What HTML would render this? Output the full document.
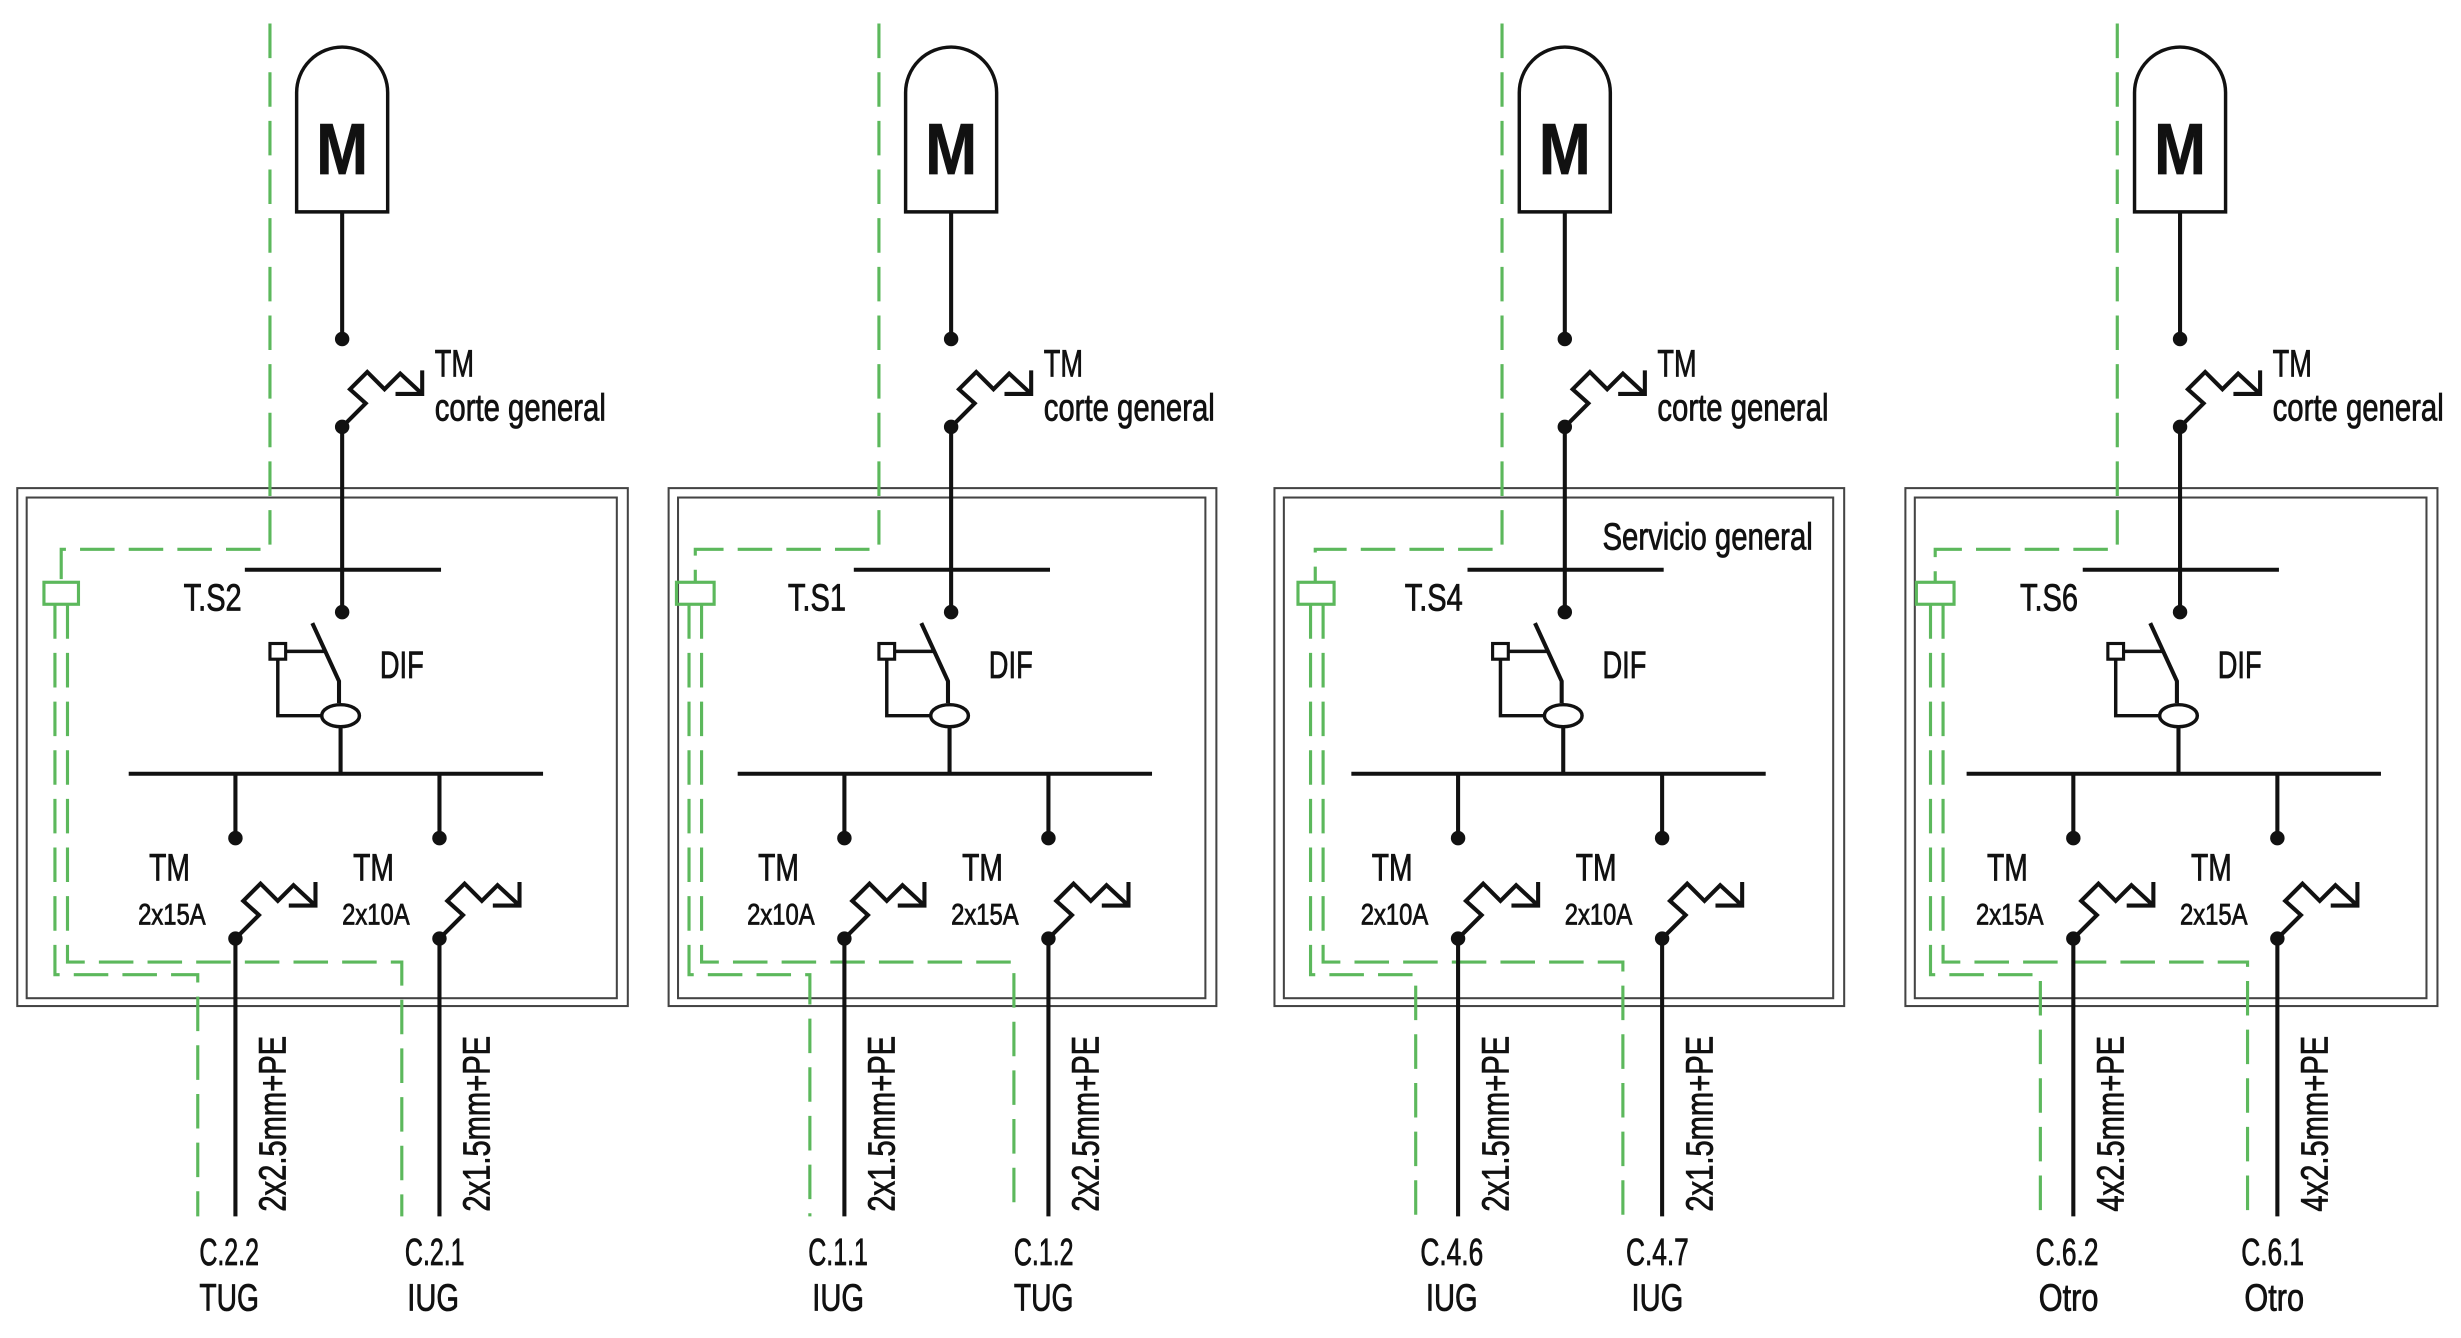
<!DOCTYPE html>
<html><head><meta charset="utf-8">
<style>
html,body{margin:0;padding:0;background:#fff;}
svg{display:block;}
text{font-family:"Liberation Sans Narrow","Liberation Sans",sans-serif;fill:#111;stroke:#111;stroke-width:0.5;}
</style></head>
<body>
<svg width="2461" height="1338" viewBox="0 0 1568 852.5" preserveAspectRatio="none" xmlns="http://www.w3.org/2000/svg">
<defs>
<g id="brk">
<path d="M0,0 L15,-15 L5,-24 L16,-35 L27,-24 L37,-34 L51,-21" fill="none" stroke="#111" stroke-width="2.6" stroke-linejoin="miter"/>
<path d="M34,-21 H51 V-36" fill="none" stroke="#111" stroke-width="2.6"/>
</g>
<g id="core" stroke="#111" stroke-width="2.6" fill="none">
<path d="M189,135 V59 A29,29 0 0 1 247,59 V135 Z" stroke-width="2.2"/>
<line x1="218" y1="135" x2="218" y2="216"/>
<use href="#brk" x="218" y="272"/>
<line x1="218" y1="272" x2="218" y2="390"/>
<line x1="156" y1="363" x2="281" y2="363"/>
<path d="M199,397 L216,434 V448"/>
<rect x="172" y="410" width="10" height="10" stroke-width="2"/>
<line x1="182" y1="415" x2="207" y2="415" stroke-width="2.2"/>
<path d="M177,420 V456 H205" stroke-width="2.2"/>
<ellipse cx="217" cy="456" rx="12" ry="7" stroke-width="2.2"/>
<line x1="217" y1="463" x2="217" y2="493"/>
<line x1="82" y1="493" x2="346" y2="493"/>
<line x1="150" y1="493" x2="150" y2="534"/>
<line x1="280" y1="493" x2="280" y2="534"/>
<use href="#brk" x="150" y="598"/>
<use href="#brk" x="280" y="598"/>
<line x1="150" y1="598" x2="150" y2="775"/>
<line x1="280" y1="598" x2="280" y2="775"/>
<g fill="#111" stroke="none">
<circle cx="218" cy="216" r="4.6"/><circle cx="218" cy="272" r="4.6"/>
<circle cx="218" cy="390" r="4.6"/>
<circle cx="150" cy="534" r="4.6"/><circle cx="280" cy="534" r="4.6"/>
<circle cx="150" cy="598" r="4.6"/><circle cx="280" cy="598" r="4.6"/>
</g>
</g>
<g id="lbl">
<text x="218" y="111" font-size="46" font-weight="bold" text-anchor="middle" textLength="33" lengthAdjust="spacingAndGlyphs">M</text>
<text x="277" y="240" font-size="24" textLength="25" lengthAdjust="spacingAndGlyphs">TM</text>
<text x="277" y="268" font-size="24" textLength="109" lengthAdjust="spacingAndGlyphs">corte general</text>
<text x="242" y="432" font-size="24" textLength="28" lengthAdjust="spacingAndGlyphs">DIF</text>
<text x="95" y="561" font-size="24" textLength="26" lengthAdjust="spacingAndGlyphs">TM</text>
<text x="225" y="561" font-size="24" textLength="26" lengthAdjust="spacingAndGlyphs">TM</text>
</g>
</defs>

<!-- boxes -->
<g fill="none" stroke="#444" stroke-width="1.3">
<rect x="11" y="311" width="389" height="330"/><rect x="17" y="317" width="376" height="319"/>
<rect x="426" y="311" width="349" height="330"/><rect x="432" y="317" width="336" height="319"/>
<rect x="812" y="311" width="363" height="330"/><rect x="818" y="317" width="350" height="319"/>
<rect x="1214" y="311" width="339" height="330"/><rect x="1220" y="317" width="326" height="319"/>
</g>

<!-- green earth -->
<g stroke="#5cb85c" stroke-width="2" fill="none">
<path d="M172,15 V350 H39 V371" stroke-dasharray="22 9"/>
<rect x="28" y="371" width="22" height="14"/>
<path d="M43,385 V613 H256 V775" stroke-dasharray="22 9"/>
<path d="M35,385 V621 H126 V775" stroke-dasharray="22 9"/>

<path d="M560,15 V350 H443 V371" stroke-dasharray="22 9"/>
<rect x="431" y="371" width="24" height="14"/>
<path d="M447,385 V613 H646 V775" stroke-dasharray="22 9"/>
<path d="M439,385 V621 H516 V775" stroke-dasharray="22 9"/>

<path d="M957,15 V350 H838 V371" stroke-dasharray="22 9"/>
<rect x="827" y="371" width="23" height="14"/>
<path d="M843,385 V613 H1034 V775" stroke-dasharray="22 9"/>
<path d="M835,385 V621 H902 V775" stroke-dasharray="22 9"/>

<path d="M1349,15 V350 H1233 V371" stroke-dasharray="22 9"/>
<rect x="1221" y="371" width="24" height="14"/>
<path d="M1238,385 V613 H1432 V775" stroke-dasharray="22 9"/>
<path d="M1230,385 V621 H1300 V775" stroke-dasharray="22 9"/>
</g>

<!-- Panel 1 -->
<g>
<use href="#core"/><use href="#lbl"/>
<text x="117" y="389" font-size="24" textLength="37" lengthAdjust="spacingAndGlyphs">T.S2</text>
<text x="88" y="589" font-size="19" textLength="43" lengthAdjust="spacingAndGlyphs">2x15A</text>
<text x="218" y="589" font-size="19" textLength="43" lengthAdjust="spacingAndGlyphs">2x10A</text>
<text transform="translate(182,772) rotate(-90)" font-size="24" textLength="112" lengthAdjust="spacingAndGlyphs">2x2.5mm+PE</text>
<text transform="translate(312,772) rotate(-90)" font-size="24" textLength="112" lengthAdjust="spacingAndGlyphs">2x1.5mm+PE</text>
<text x="146" y="806" font-size="24" text-anchor="middle" textLength="38" lengthAdjust="spacingAndGlyphs">C.2.2</text>
<text x="146" y="835" font-size="24" text-anchor="middle" textLength="38" lengthAdjust="spacingAndGlyphs">TUG</text>
<text x="277" y="806" font-size="24" text-anchor="middle" textLength="38" lengthAdjust="spacingAndGlyphs">C.2.1</text>
<text x="276" y="835" font-size="24" text-anchor="middle" textLength="33" lengthAdjust="spacingAndGlyphs">IUG</text>
</g>

<!-- Panel 2 -->
<g transform="translate(388,0)">
<use href="#core"/><use href="#lbl"/>
<text x="114" y="389" font-size="24" textLength="37" lengthAdjust="spacingAndGlyphs">T.S1</text>
<text x="88" y="589" font-size="19" textLength="43" lengthAdjust="spacingAndGlyphs">2x10A</text>
<text x="218" y="589" font-size="19" textLength="43" lengthAdjust="spacingAndGlyphs">2x15A</text>
<text transform="translate(182,772) rotate(-90)" font-size="24" textLength="112" lengthAdjust="spacingAndGlyphs">2x1.5mm+PE</text>
<text transform="translate(312,772) rotate(-90)" font-size="24" textLength="112" lengthAdjust="spacingAndGlyphs">2x2.5mm+PE</text>
<text x="146" y="806" font-size="24" text-anchor="middle" textLength="38" lengthAdjust="spacingAndGlyphs">C.1.1</text>
<text x="146" y="835" font-size="24" text-anchor="middle" textLength="33" lengthAdjust="spacingAndGlyphs">IUG</text>
<text x="277" y="806" font-size="24" text-anchor="middle" textLength="38" lengthAdjust="spacingAndGlyphs">C.1.2</text>
<text x="277" y="835" font-size="24" text-anchor="middle" textLength="38" lengthAdjust="spacingAndGlyphs">TUG</text>
</g>

<!-- Panel 3 -->
<g transform="translate(779,0)">
<use href="#core"/><use href="#lbl"/>
<text x="242" y="350" font-size="24" textLength="134" lengthAdjust="spacingAndGlyphs">Servicio general</text>
<text x="116" y="389" font-size="24" textLength="37" lengthAdjust="spacingAndGlyphs">T.S4</text>
<text x="88" y="589" font-size="19" textLength="43" lengthAdjust="spacingAndGlyphs">2x10A</text>
<text x="218" y="589" font-size="19" textLength="43" lengthAdjust="spacingAndGlyphs">2x10A</text>
<text transform="translate(182,772) rotate(-90)" font-size="24" textLength="112" lengthAdjust="spacingAndGlyphs">2x1.5mm+PE</text>
<text transform="translate(312,772) rotate(-90)" font-size="24" textLength="112" lengthAdjust="spacingAndGlyphs">2x1.5mm+PE</text>
<text x="146" y="806" font-size="24" text-anchor="middle" textLength="40" lengthAdjust="spacingAndGlyphs">C.4.6</text>
<text x="146" y="835" font-size="24" text-anchor="middle" textLength="33" lengthAdjust="spacingAndGlyphs">IUG</text>
<text x="277" y="806" font-size="24" text-anchor="middle" textLength="40" lengthAdjust="spacingAndGlyphs">C.4.7</text>
<text x="277" y="835" font-size="24" text-anchor="middle" textLength="33" lengthAdjust="spacingAndGlyphs">IUG</text>
</g>

<!-- Panel 4 -->
<g transform="translate(1171,0)">
<use href="#core"/><use href="#lbl"/>
<text x="116" y="389" font-size="24" textLength="37" lengthAdjust="spacingAndGlyphs">T.S6</text>
<text x="88" y="589" font-size="19" textLength="43" lengthAdjust="spacingAndGlyphs">2x15A</text>
<text x="218" y="589" font-size="19" textLength="43" lengthAdjust="spacingAndGlyphs">2x15A</text>
<text transform="translate(182,772) rotate(-90)" font-size="24" textLength="112" lengthAdjust="spacingAndGlyphs">4x2.5mm+PE</text>
<text transform="translate(312,772) rotate(-90)" font-size="24" textLength="112" lengthAdjust="spacingAndGlyphs">4x2.5mm+PE</text>
<text x="146" y="806" font-size="24" text-anchor="middle" textLength="40" lengthAdjust="spacingAndGlyphs">C.6.2</text>
<text x="147" y="835" font-size="24" text-anchor="middle" textLength="38" lengthAdjust="spacingAndGlyphs">Otro</text>
<text x="277" y="806" font-size="24" text-anchor="middle" textLength="40" lengthAdjust="spacingAndGlyphs">C.6.1</text>
<text x="278" y="835" font-size="24" text-anchor="middle" textLength="38" lengthAdjust="spacingAndGlyphs">Otro</text>
</g>
</svg>
</body></html>
